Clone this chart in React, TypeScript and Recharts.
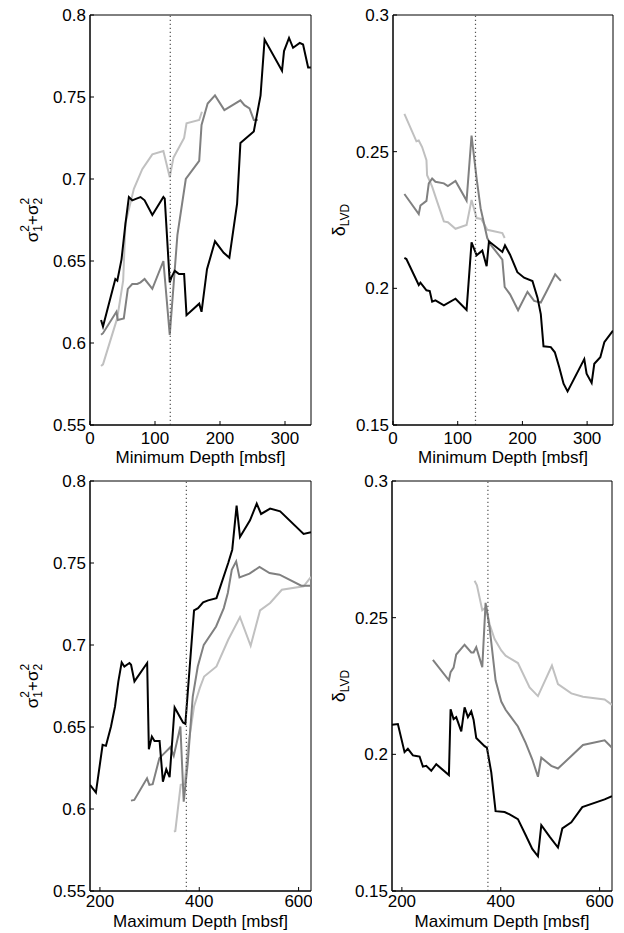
import React from "react";
import { LineChart, Line, XAxis, YAxis, ReferenceLine, ReferenceArea } from "recharts";

const FONT = '"Liberation Sans", Arial, Helvetica, sans-serif';
const BLACK = "#000000";
const DARK = "#808080";
const LIGHT = "#c0c0c0";

// [depth, value]
const minSigmaBlack = [
  [17, 0.614], [20, 0.61], [39, 0.639], [42, 0.638], [48.5, 0.651], [54.6, 0.673], [59.8, 0.689],
  [65, 0.687], [71.6, 0.688], [77.8, 0.689], [84, 0.687], [95.9, 0.678], [112.9, 0.689], [115, 0.688],
  [122.7, 0.637], [125.3, 0.64], [130.4, 0.644], [137, 0.642], [144.8, 0.642], [148.5, 0.617],
  [168, 0.624], [171.6, 0.619], [180, 0.645], [192.3, 0.662], [205.7, 0.655], [214.4, 0.652],
  [226.3, 0.685], [231.4, 0.722], [252, 0.729], [262.4, 0.751], [268.6, 0.785], [295.4, 0.766],
  [298.5, 0.778], [306.2, 0.786], [312.4, 0.78], [322.7, 0.783], [327.8, 0.782], [335.6, 0.768],
  [339.7, 0.768],
];
const minSigmaDark = [
  [17, 0.605], [20, 0.606], [40.7, 0.619], [42.8, 0.614], [52, 0.615], [58.2, 0.633], [65, 0.636],
  [72.7, 0.636], [77.8, 0.637], [84, 0.639], [95.9, 0.633], [112.9, 0.65], [122.7, 0.605],
  [134.5, 0.666], [147.4, 0.7], [168, 0.711], [171.6, 0.733], [181, 0.746], [192.3, 0.751],
  [206.7, 0.742], [231.4, 0.748], [237.6, 0.745], [245.4, 0.743], [252, 0.736], [258.2, 0.736],
];
const minSigmaLight = [
  [17, 0.586], [20, 0.587], [41.8, 0.615], [51, 0.638], [54.6, 0.673], [67.5, 0.694], [80.4, 0.706],
  [95.9, 0.715], [112.9, 0.717], [122.7, 0.701], [128.4, 0.713], [144.8, 0.725], [148.5, 0.734],
  [168, 0.736], [172.2, 0.741],
];

const minDeltaBlack = [
  [17.6, 0.2111], [20.7, 0.2107], [39.8, 0.2012], [42.4, 0.2021], [51.7, 0.1993], [56.8, 0.199],
  [60.5, 0.1951], [65.6, 0.1956], [78.6, 0.1938], [96.6, 0.1962], [113.7, 0.1921], [121.4, 0.2168],
  [129.2, 0.2121], [138, 0.2138], [144.7, 0.2081], [148.3, 0.2172], [169, 0.2133], [173.1, 0.2157],
  [180.9, 0.2123], [192.2, 0.2059], [202.6, 0.2039], [215.5, 0.2027], [223.3, 0.1966],
  [228.4, 0.1906], [232.6, 0.1788], [243.9, 0.1785], [250.1, 0.1766], [256.8, 0.1712],
  [263.6, 0.1651], [269.8, 0.1623], [295.6, 0.1741], [299.2, 0.1688], [307, 0.1654],
  [311.1, 0.1724], [320.4, 0.1748], [326.6, 0.1803], [340, 0.1845],
];
const minDeltaDark = [
  [17.6, 0.2345], [39.8, 0.2272], [42.4, 0.2303], [51.7, 0.232], [55.3, 0.2384], [60.5, 0.2402],
  [65.6, 0.239], [78.6, 0.2384], [84.8, 0.2374], [96.6, 0.2393], [113.7, 0.2321], [121.4, 0.2559],
  [129.2, 0.2402], [135.4, 0.2293], [145.7, 0.2184], [150.9, 0.216], [169, 0.2105], [172.6, 0.2005],
  [180.9, 0.1978], [193.3, 0.192], [207.8, 0.1987], [218.1, 0.1954], [228.4, 0.1948],
  [238.8, 0.1996], [250.6, 0.2051], [259.4, 0.2027],
];
const minDeltaLight = [
  [17.6, 0.2638], [36.2, 0.2538], [39.8, 0.2541], [45, 0.2517], [51.7, 0.2469], [52.7, 0.2414],
  [60.5, 0.2372], [68.2, 0.2317], [78.6, 0.2245], [84.8, 0.2242], [96.6, 0.2218], [113.7, 0.2232],
  [121.4, 0.2323], [129.2, 0.2257], [136.4, 0.2254], [145.7, 0.2214], [169, 0.2202], [172.6, 0.2184],
];

const maxSigmaBlack = [
  [180, 0.6147], [191.9, 0.61], [205.4, 0.6391], [212.1, 0.6385], [222.3, 0.6503], [230.4, 0.6625],
  [237.1, 0.6778], [243.8, 0.6894], [249.2, 0.6869], [259.4, 0.689], [262.7, 0.6879], [269.5, 0.6778],
  [295.1, 0.689], [298.5, 0.6364], [304.6, 0.6442], [309.9, 0.6415], [320.1, 0.6415], [326.8, 0.6167],
  [333.6, 0.6242], [340.3, 0.6194], [350.4, 0.6619], [367.3, 0.6527], [372, 0.6519], [389.5, 0.7211],
  [397.6, 0.7225], [407.8, 0.726], [417.9, 0.7272], [434.7, 0.7286], [458.3, 0.75], [466.4, 0.7581],
  [475.2, 0.785], [482, 0.7659], [502.2, 0.776], [515.7, 0.7862], [524.5, 0.7799], [542.7, 0.7832],
  [562.9, 0.7815], [610.1, 0.7677], [625, 0.7687],
];
const maxSigmaDark = [
  [262.5, 0.6051], [269.2, 0.6055], [294.8, 0.6187], [299.5, 0.6147], [306.2, 0.6151], [319.7, 0.631],
  [328.4, 0.6336], [341.8, 0.6377], [348.6, 0.6324], [362, 0.6503], [368.7, 0.6045], [376.8, 0.6279],
  [386.9, 0.6686], [397, 0.6869], [409.1, 0.7001], [433.9, 0.7113], [449.4, 0.7225], [457.5, 0.7317],
  [465.5, 0.7459], [474.3, 0.751], [481, 0.7412], [501.2, 0.7435], [521.3, 0.7476], [541.5, 0.7439],
  [561.7, 0.7429], [605.4, 0.7362], [624.2, 0.7362],
];
const maxSigmaLight = [
  [349, 0.5862], [351.8, 0.5866], [362.6, 0.6147], [370.7, 0.6153], [377.4, 0.6381], [389.5, 0.6625],
  [401, 0.6737], [409.8, 0.6808], [434.7, 0.6869], [458.3, 0.7032], [482, 0.717], [503.5, 0.6995],
  [522.4, 0.7211], [542.7, 0.7256], [566.3, 0.7337], [610.1, 0.7358], [625, 0.7415],
];

const maxDeltaBlack = [
  [180, 0.2108], [191.9, 0.2111], [205.4, 0.2008], [212.1, 0.202], [222.3, 0.1996], [229, 0.1994],
  [235.8, 0.1992], [242.5, 0.1955], [249.2, 0.1958], [259.4, 0.194], [269.5, 0.1964], [295.1, 0.1924],
  [298.5, 0.2165], [304.6, 0.2129], [309.9, 0.2136], [320.1, 0.2084], [326.8, 0.2172], [333.6, 0.2136],
  [340.3, 0.2157], [345, 0.2127], [350.4, 0.206], [367.3, 0.203], [372, 0.2024], [380.8, 0.1934],
  [389.5, 0.1792], [407.8, 0.1789], [417.9, 0.178], [434.7, 0.1763], [450.3, 0.1705], [463.7, 0.1654],
  [475.2, 0.1627], [482, 0.1741], [498.8, 0.1699], [515.7, 0.1659], [524.5, 0.1729], [542.7, 0.1751],
  [564.9, 0.1807], [610.1, 0.1835], [625, 0.1847],
];
const maxDeltaDark = [
  [262.7, 0.2346], [295.1, 0.2271], [298.5, 0.2301], [304.6, 0.2317], [309.9, 0.2365], [326.8, 0.2401],
  [340.3, 0.2373], [345, 0.2373], [350.4, 0.2392], [362.6, 0.2319], [369.3, 0.2554], [377.4, 0.2464],
  [389.5, 0.2271], [401, 0.2193], [409.8, 0.2163], [434.7, 0.2102], [450.3, 0.2042], [463.7, 0.1982],
  [475.2, 0.1918], [482, 0.1988], [502.2, 0.1958], [515.7, 0.1948], [542.7, 0.1994], [566.3, 0.2034],
  [610.1, 0.2051], [625, 0.2024],
];
const maxDeltaLight = [
  [347, 0.2635], [351.8, 0.2618], [362.6, 0.2527], [370.7, 0.2539], [377.4, 0.2476], [387.5, 0.2422],
  [401, 0.238], [409.8, 0.2361], [434.7, 0.2334], [458.3, 0.2245], [475.2, 0.2213], [503.5, 0.2325],
  [515.7, 0.2257], [542.7, 0.2223], [566.3, 0.2211], [610.1, 0.2201], [625, 0.2181],
];

const minDepthTicks = [0, 100, 200, 300];
const maxDepthTicks = [200, 400, 600];
const sigmaTicks = [0.55, 0.6, 0.65, 0.7, 0.75, 0.8];
const deltaTicks = [0.15, 0.2, 0.25, 0.3];

const toRows = (pts: number[][]) => pts.map(([d, v]) => ({ d, v }));

function SigmaLabel({ x, y }: { x: number; y: number }) {
  return (
    <text
      transform={`translate(${x},${y}) rotate(-90)`}
      textAnchor="middle"
      fontSize={17}
      fontFamily={FONT}
      fill="#000"
    >
      σ
      <tspan dy={-9} fontSize={12}>2</tspan>
      <tspan dx={-6.7} dy={13} fontSize={12}>1</tspan>
      <tspan dy={-4}>+σ</tspan>
      <tspan dy={-9} fontSize={12}>2</tspan>
      <tspan dx={-6.7} dy={13} fontSize={12}>2</tspan>
    </text>
  );
}

function DeltaLabel({ x, y }: { x: number; y: number }) {
  return (
    <text
      transform={`translate(${x},${y}) rotate(-90)`}
      textAnchor="middle"
      fontSize={18}
      fontFamily={FONT}
      fill="#000"
    >
      δ
      <tspan dy={4} fontSize={12}>LVD</tspan>
    </text>
  );
}

interface PanelProps {
  left: number;
  top: number;
  height: number;
  margin: { top: number; right: number; bottom: number; left: number };
  yAxisWidth: number;
  xAxisHeight: number;
  xTickMargin: number;
  labelOffset: number;
  xDomain: [number, number];
  xTicks: number[];
  yDomain: [number, number];
  yTicks: number[];
  marker: number;
  xLabel: string;
  yLabel: React.ReactElement;
  series: { pts: number[][]; color: string }[];
}

function Panel(p: PanelProps) {
  const tick = { fill: "#000", fontSize: 17, fontFamily: FONT };
  return (
    <div style={{ position: "absolute", left: p.left, top: p.top }}>
      <LineChart width={312} height={p.height} margin={p.margin}>
        <XAxis
          type="number"
          dataKey="d"
          domain={p.xDomain}
          ticks={p.xTicks}
          allowDataOverflow
          height={p.xAxisHeight}
          tickSize={-4}
          tickMargin={p.xTickMargin}
          stroke="#000"
          tick={tick}
          label={{
            value: p.xLabel,
            position: "insideBottom",
            offset: p.labelOffset,
            fill: "#000",
            fontSize: 17,
            fontFamily: FONT,
          }}
        />
        <YAxis
          type="number"
          domain={p.yDomain}
          ticks={p.yTicks}
          allowDataOverflow
          width={p.yAxisWidth}
          tickSize={-4}
          tickMargin={8}
          stroke="#000"
          tick={tick}
          label={{ content: () => p.yLabel }}
        />
        <ReferenceArea
          x1={p.xDomain[0]}
          x2={p.xDomain[1]}
          y1={p.yDomain[0]}
          y2={p.yDomain[1]}
          fill="none"
          stroke="#000"
          strokeWidth={1}
        />
        {p.series.map((s, i) => (
          <Line
            key={i}
            data={toRows(s.pts)}
            dataKey="v"
            type="linear"
            stroke={s.color}
            strokeWidth={2}
            dot={false}
            isAnimationActive={false}
          />
        ))}
        <ReferenceLine x={p.marker} stroke="#555" strokeWidth={1.2} strokeDasharray="1.2 2.8" />
      </LineChart>
    </div>
  );
}

export default function App() {
  return (
    <div
      style={{
        position: "absolute",
        left: 0,
        top: 0,
        width: 624,
        height: 933,
        background: "#fff",
        fontFamily: FONT,
      }}
    >
      <Panel
        left={0}
        top={0}
        height={470}
        margin={{ top: 15, right: 1, bottom: 0, left: 0 }}
        yAxisWidth={90}
        xAxisHeight={45}
        xTickMargin={11}
        labelOffset={7}
        xDomain={[0, 340]}
        xTicks={minDepthTicks}
        yDomain={[0.55, 0.8]}
        yTicks={sigmaTicks}
        marker={123.5}
        xLabel="Minimum Depth [mbsf]"
        yLabel={<SigmaLabel x={38} y={220} />}
        series={[
          { pts: minSigmaLight, color: LIGHT },
          { pts: minSigmaDark, color: DARK },
          { pts: minSigmaBlack, color: BLACK },
        ]}
      />
      <Panel
        left={312}
        top={0}
        height={470}
        margin={{ top: 15, right: 11, bottom: 0, left: 0 }}
        yAxisWidth={81}
        xAxisHeight={45}
        xTickMargin={11}
        labelOffset={7}
        xDomain={[0, 340]}
        xTicks={minDepthTicks}
        yDomain={[0.15, 0.3]}
        yTicks={deltaTicks}
        marker={127.5}
        xLabel="Minimum Depth [mbsf]"
        yLabel={<DeltaLabel x={33} y={220} />}
        series={[
          { pts: minDeltaLight, color: LIGHT },
          { pts: minDeltaDark, color: DARK },
          { pts: minDeltaBlack, color: BLACK },
        ]}
      />
      <Panel
        left={0}
        top={465}
        height={468}
        margin={{ top: 16, right: 1, bottom: 0, left: 0 }}
        yAxisWidth={90}
        xAxisHeight={42}
        xTickMargin={8}
        labelOffset={6}
        xDomain={[180, 625]}
        xTicks={maxDepthTicks}
        yDomain={[0.55, 0.8]}
        yTicks={sigmaTicks}
        marker={374}
        xLabel="Maximum Depth [mbsf]"
        yLabel={<SigmaLabel x={38} y={221} />}
        series={[
          { pts: maxSigmaLight, color: LIGHT },
          { pts: maxSigmaDark, color: DARK },
          { pts: maxSigmaBlack, color: BLACK },
        ]}
      />
      <Panel
        left={312}
        top={465}
        height={468}
        margin={{ top: 16, right: 12, bottom: 0, left: 0 }}
        yAxisWidth={80}
        xAxisHeight={42}
        xTickMargin={8}
        labelOffset={6}
        xDomain={[180, 625]}
        xTicks={maxDepthTicks}
        yDomain={[0.15, 0.3]}
        yTicks={deltaTicks}
        marker={374}
        xLabel="Maximum Depth [mbsf]"
        yLabel={<DeltaLabel x={33} y={221} />}
        series={[
          { pts: maxDeltaLight, color: LIGHT },
          { pts: maxDeltaDark, color: DARK },
          { pts: maxDeltaBlack, color: BLACK },
        ]}
      />
    </div>
  );
}
